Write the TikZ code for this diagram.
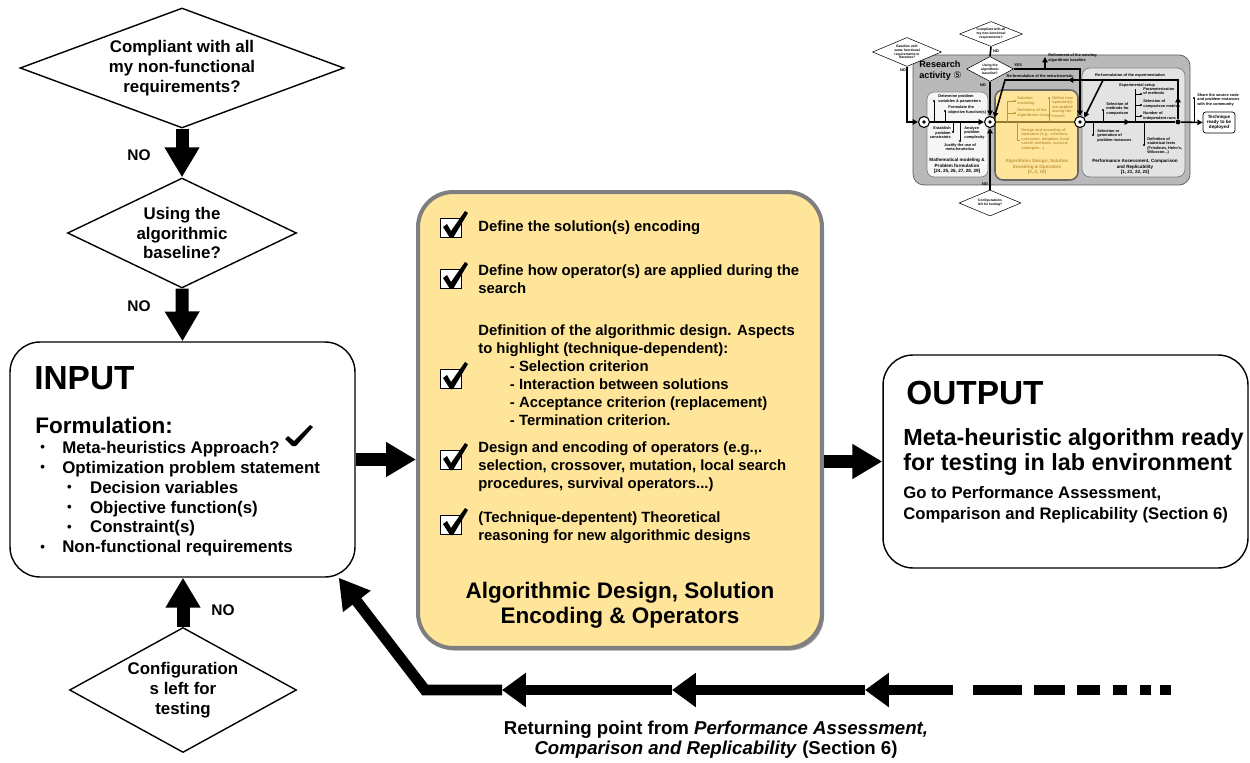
\documentclass[tikz,border=0pt]{standalone}
\usepackage{fontspec}
\setmainfont{Liberation Sans}
\newfontfamily\symfont{DejaVu Sans}
\usetikzlibrary{positioning,arrows.meta,shapes.geometric,shadows}
\definecolor{designyellow}{RGB}{255,229,153}
\definecolor{designedge}{RGB}{127,127,127}
\definecolor{designtext}{RGB}{190,150,60}
\newcommand{\fsz}[2]{\fontsize{#1}{#2}\selectfont\bfseries}
\newcommand{\dotmark}{{\fontsize{7.5}{7.5}\selectfont\raisebox{1pt}{•}}}
\tikzstyle{ask}=[draw, thick, diamond, align=center, font=\fsz{9.6}{11.3}]
\tikzstyle{panel}=[draw, thick, rectangle, rounded corners=0.6cm]
\tikzstyle{bigarrow}=[line width=7.4pt, -{Triangle[length=17pt,width=18.7pt]}]
\tikzstyle{retarrow}=[line width=6.2pt, -{Triangle[length=13.6pt,width=18.7pt]}]
\tikzstyle{backarrow}=[line width=6.2pt, -{Triangle[length=17pt,width=18.7pt]}]
\tikzstyle{nolabel}=[font=\fsz{8.8}{10}]
\tikzstyle{tickbox}=[draw, line width=1.1pt, fill=white, minimum width=0.42cm, minimum height=0.38cm]
\tikzstyle{itemtext}=[anchor=west, align=left, font=\fsz{8.45}{10.2}]
\tikzstyle{thumbask}=[draw, diamond, fill=white, line width=0.3pt, align=center, font=\fsz{1.9}{2.2}]
\tikzstyle{hub}=[circle, draw, fill=white, line width=0.6pt, minimum size=0.22cm]
\tikzstyle{tflow}=[line width=0.9pt, -{Triangle[length=3pt,width=3pt]}]
\tikzstyle{tline}=[line width=0.9pt]
\tikzstyle{tstem}=[line width=0.35pt]
\tikzstyle{tnote}=[font=\fsz{2.2}{2.6}, align=left]
\tikzstyle{ttitle}=[font=\fsz{2.6}{3}, align=center]
\newcommand{\checkitem}[3]{%
  \node[tickbox] (#1) at (#2,#3) {};
  \fill[shift={(#1.center)}] (-8,-1) -- (-4,-4) -- (0,3) -- (14,-17) -- (17,-15) -- (2,10) -- (-1,10) -- cycle;}

\begin{document}
\begin{tikzpicture}[x=0.02cm, y=-0.02cm, inner sep=0pt]
\useasboundingbox (0,0) rectangle (1250,763);

\node[ask, aspect=2.7, minimum width=6.48cm, minimum height=2.4cm] (compliant) at (182,68) {Compliant with all\\my non-functional\\requirements?};
\node[ask, aspect=2.1, minimum width=4.58cm, minimum height=2.2cm] (baseline) at (182,233) {Using the\\algorithmic\\baseline?};
\node[panel, minimum width=6.9cm, minimum height=4.7cm] (input) at (182.5,459.5) {};
\node[ask, aspect=1.8, minimum width=4.54cm, minimum height=2.5cm] (configs) at (183,690) {Configuration\\s left for\\testing};

\draw[bigarrow] (compliant.south) -- (baseline.north);
\draw[bigarrow] (baseline.south) -- (input.north);
\draw[bigarrow] (configs.north) -- (configs.north |- input.south);
\node[nolabel] (no1) at (139,155) {NO};
\node[nolabel] (no2) at (139,306) {NO};
\node[nolabel] (no3) at (223,610) {NO};

\node[anchor=west, font=\fsz{19}{22}] (inputtitle) at (34,378) {INPUT};
\node[anchor=west, font=\fsz{12.8}{14}] (formulation) at (35,425) {Formulation:};
\node[anchor=north west, align=left, font=\fsz{9.6}{11.3}] (formlist) at (40,441) {%
\makebox[12.5pt][l]{\dotmark}Meta-heuristics Approach?\\
\makebox[12.5pt][l]{\dotmark}Optimization problem statement\\
\hspace*{15.3pt}\makebox[13pt][l]{\dotmark}Decision variables\\
\hspace*{15.3pt}\makebox[13pt][l]{\dotmark}Objective function(s)\\
\hspace*{15.3pt}\makebox[13pt][l]{\dotmark}Constraint(s)\\
\makebox[12.5pt][l]{\dotmark}Non-functional requirements};
\fill[shift={(285,437)}] (0,2) -- (3,-1) -- (9,4) -- (25,-12) -- (28,-10) -- (11,9) -- (7,9) -- cycle;

\node[panel, line width=2.3pt, draw=designedge, fill=designyellow, rounded corners=0.7cm, minimum width=8.08cm, minimum height=9.12cm, drop shadow={shadow xshift=1.2pt, shadow yshift=-1.5pt, fill=gray!70!black, opacity=0.6}] (design) at (620,420) {};
\node[itemtext] (encoding) at (478,228) {Define the solution(s) encoding};
\node[itemtext] (operators) at (478,279) {Define how operator(s) are applied during the\\search};
\node[itemtext] (aspects) at (478,375) {Definition of the algorithmic design. Aspects\\to highlight (technique-dependent):\\\hspace*{18pt}- Selection criterion\\\hspace*{18pt}- Interaction between solutions\\\hspace*{18pt}- Acceptance criterion (replacement)\\\hspace*{18pt}- Termination criterion.};
\node[itemtext] (opdesign) at (478,467) {Design and encoding of operators (e.g.,.\\selection, crossover, mutation, local search\\procedures, survival operators...)};
\node[itemtext] (theory) at (478,528) {(Technique-depentent) Theoretical\\reasoning for new algorithmic designs};
\checkitem{tick1}{451}{228}
\checkitem{tick2}{451}{279}
\checkitem{tick3}{451}{379}
\checkitem{tick4}{451}{460}
\checkitem{tick5}{451}{525}
\node[font=\fsz{12.8}{14.2}, align=center] (designtitle) at (620,605) {Algorithmic Design, Solution\\Encoding \& Operators};

\node[panel, minimum width=7.3cm, minimum height=4.26cm] (output) at (1065.5,461.5) {};
\node[anchor=west, font=\fsz{19}{22}] (outputtitle) at (906,393) {OUTPUT};
\node[anchor=west, align=left, font=\fsz{13.3}{14.2}] (outputmain) at (903,452) {Meta-heuristic algorithm ready\\for testing in lab environment};
\node[anchor=west, align=left, font=\fsz{9.5}{12}] (outputnext) at (903,505) {Go to Performance Assessment,\\Comparison and Replicability (Section 6)};

\draw[bigarrow] (input.east) -- (input.east -| design.west);
\draw[bigarrow] (design.east |- output.west) -- (output.west);

\coordinate (retstart) at (953,690);
\coordinate (ret1) at (865,690);
\coordinate (ret2) at (672,690);
\coordinate (ret3) at (502,690);
\coordinate (retcorner) at (425,690);
\draw[retarrow] (retstart) -- (ret1);
\draw[retarrow] (ret1) -- (ret2);
\draw[retarrow] (ret2) -- (ret3);
\draw[backarrow] (ret3) -- (retcorner) -- ([xshift=-0.34cm]input.south east);
\foreach \a/\b in {973/1022, 1034/1065, 1077/1100, 1113/1127, 1140/1151, 1160/1171}
  \draw[line width=6.2pt] (\a,690) -- (\b,690);
\node[align=center, font=\fsz{10.6}{11.3}] (returning) at (716,740) {Returning point from \textit{Performance Assessment,}\\\textit{Comparison and Replicability} (Section 6)};

% thumbnail
\draw[fill=gray!55, draw=gray!70!black, rounded corners=0.22cm] (913,55) rectangle (1190,185);
\draw[fill=gray!7, draw=gray, rounded corners=0.14cm] (927,92) rectangle (988,177);
\draw[fill=gray!22, draw=gray, rounded corners=0.16cm] (1082,68) rectangle (1185,177);
\draw[fill=designyellow, draw=gray!80!black, line width=0.9pt, rounded corners=0.16cm] (995,90) rectangle (1078,180);
\node[anchor=north west, align=left, font=\fsz{5.2}{6}] (research) at (919,61) {Research\\activity {\symfont\mdseries ⑤}};

\node[thumbask, aspect=2.4, minimum width=1.38cm, minimum height=0.58cm] (tbaseline) at (907,52) {Baseline with\\same functional\\requirements in\\literature?};
\node[thumbask, aspect=2.5, minimum width=1.26cm, minimum height=0.5cm] (tcompliant) at (991,34) {Compliant with all\\my non-functional\\requirements?};
\node[thumbask, aspect=1.9, minimum width=0.94cm, minimum height=0.5cm] (tusing) at (990,69) {Using the\\algorithmic\\baseline?};
\node[thumbask, aspect=2.4, minimum width=1.24cm, minimum height=0.52cm] (tconfigs) at (990,203) {Configurations\\left for testing?};

\node[hub] (hub1) at (924,122) {};
\node[hub] (hub2) at (990,122) {};
\node[hub] (hub3) at (1080,122) {};
\foreach \h in {hub1,hub2,hub3}
  \fill (\h) circle (1.8);
\node[circle, fill, minimum size=0.1cm] (tjoin) at (1178,122) {};
\node[draw, fill=white, line width=0.4pt, rounded corners=1.5pt, align=center, font=\fsz{2.6}{3}, minimum width=0.64cm, minimum height=0.42cm] (tready) at (1219,122.5) {Technique\\ready to be\\deployed};

\draw[tflow] (tbaseline.south) |- (hub1.west);
\draw[tflow] (hub1.east) -- (hub2.west);
\draw[line width=0.9pt, draw=designtext!80!black] (hub2.east) -- (hub3.west);
\draw[tflow] (hub3.east) -- (1130,122);
\draw[tline] (1128,122) -- (tjoin);
\draw[tflow] (tjoin) -- (tready.west);
\draw[tline] (tcompliant.south) -- (tusing.north);
\draw[tflow] (tusing.south) -- (hub2.north);
\draw[tflow] (tconfigs.north) -- (hub2.south);
\draw[tflow] (tusing.east) -| (hub3.north);
\draw[tflow] (1045,69) -- (1045,57);
\draw[tflow] (tjoin) -- (1178,97);
\draw[tflow] (1178,99) -- (1178,80) -- (1068,80);
\draw[tflow] (1070,80) -- (1005,80) -- (hub2.north east);
\draw[tflow] (1103,80) -- (hub3.north east);

\foreach \x/\y in {934/101, 945/111, 953/132, 960/141, 1103/110, 1093/135, 1144/145, 1194/98}
  {\draw[tstem] (\x,122) -- (\x,\y); \fill (\x,\y) circle (1.1);}
\draw[tstem] (1135,122) -- (1135,89);
\foreach \y in {94,105,116}
  {\draw[tstem] (1135,\y) -- (1141,\y); \fill (1141,\y) circle (1.1);}
\begin{scope}[draw=designtext, fill=designtext]
\draw[tstem, designtext] (1007,122) -- (1007,101) -- (1015,101) (1007,113) -- (1015,113);
\draw[tstem, designtext] (1049,122) -- (1049,98) (1017,122) -- (1017,140) -- (1020,140);
\fill[designtext] (1049,98) circle (1.1) (1015,101) circle (1.1) (1015,113) circle (1.1);
\end{scope}

\node[tnote] (tno1) at (903,70) {NO};
\node[tnote] (tno2) at (996,51) {NO};
\node[tnote] (tno3) at (983,85) {NO};
\node[tnote] (tno4) at (985,184) {NO};
\node[tnote] (tyes) at (1018,65) {YES};
\node[tnote, anchor=west] (trefine) at (1048,58) {Refinement of the existing\\algorithmic baseline};
\node[tnote] (tremeta) at (1040,76) {Re-formulation of the meta-heuristic};
\node[tnote] (treexp) at (1130,76) {Re-formulation of the experimentation};

\node[tnote, anchor=west] (tvars) at (938,99) {Determine problem\\variables \& parameters};
\node[tnote, anchor=west] (tobj) at (948,110) {Formulate the\\objective function(s)};
\node[tnote, anchor=east, align=right] (tcons) at (951,133) {Establish\\problem\\constraints};
\node[tnote, anchor=west] (tcomplex) at (964,133) {Analyze\\problem\\complexity};
\node[tnote, anchor=north, align=center] (tjustify) at (960,143) {Justify the use of\\meta-heuristics};
\node[ttitle] (tmath) at (957,166) {Mathematical modeling \&\\Problem formulation\\{[}24, 25, 26, 27, 28, 29{]}};

\node[tnote, anchor=west, text=designtext] (tenc) at (1017,101) {Solution\\encoding};
\node[tnote, anchor=west, text=designtext] (tdef) at (1017,113) {Definition of the\\algorithmic design};
\node[tnote, anchor=north west, text=designtext] (thow) at (1052,96) {Define how\\operator(s)\\are applied\\during the\\search};
\node[tnote, anchor=north west, text=designtext] (tops) at (1021,128) {Design and encoding of\\operators (e.g., selection,\\crossover, mutation, local\\search methods, survival\\strategies...)};
\node[ttitle, text=designtext] (tdesign) at (1037,167) {Algorithmic Design, Solution\\Encoding \& Operators\\{[}2, 3, 19{]}};

\node[tnote, anchor=west] (tsetup) at (1119,86) {Experimental setup};
\node[tnote, anchor=west] (tparam) at (1143,91) {Parameterization\\of methods};
\node[tnote, anchor=west] (tmetric) at (1143,104) {Selection of\\comparison metrics};
\node[tnote, anchor=west] (truns) at (1143,116) {Number of\\independent runs};
\node[tnote, anchor=west] (tmeth) at (1106,109) {Selection of\\methods for\\comparison};
\node[tnote, anchor=west] (tinst) at (1097,136) {Selection or\\generation of\\problem instances};
\node[tnote, anchor=west] (tstat) at (1147,146) {Definition of\\statistical tests\\(Friedman, Holm's,\\Wilcoxon...)};
\node[ttitle] (tperf) at (1135,167) {Performance Assessment, Comparison\\and Replicability\\{[}1, 21, 22, 23{]}};
\node[tnote, anchor=west] (tshare) at (1197,100) {Share the source code\\and problem instances\\with the community};

\end{tikzpicture}
\end{document}
